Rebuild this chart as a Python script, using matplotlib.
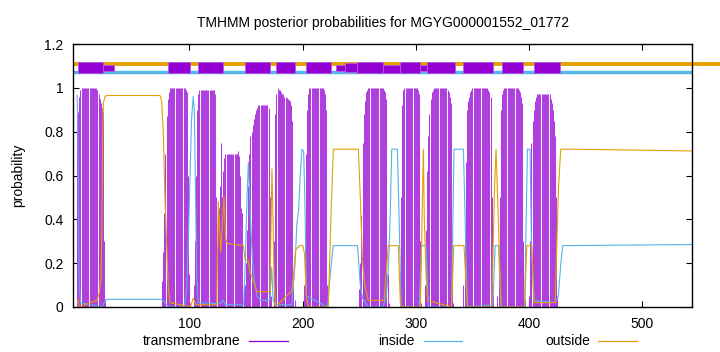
import matplotlib
matplotlib.use("Agg")
import matplotlib.pyplot as plt
from matplotlib.patches import Rectangle
from matplotlib.lines import Line2D

plt.rcParams['font.family'] = ['Liberation Sans', 'DejaVu Sans']

# --- данные ---
seq_len = 544

# профиль трансмембранной вероятности: начало сегмента и значения по остаткам
tm_seg_start = [1, 76, 104, 149, 175, 201, 250, 286, 308, 342, 372, 400]
tm_seg_values = [
    [0.88, 0.89, 0.96, 0.99, 1.0, 1.0, 1.0, 1.0, 1.0, 1.0, 1.0, 1.0, 1.0, 1.0, 1.0, 1.0, 1.0, 1.0,
     0.99, 0.97, 0.95, 0.93, 0.91, 0.89, 0.3, 0.03],
    [0.12, 0.25, 0.43, 0.7, 0.87, 0.95, 0.98, 1.0, 1.0, 1.0, 1.0, 1.0, 1.0, 1.0, 1.0, 1.0, 1.0, 1.0,
     1.0, 1.0, 1.0, 0.99, 0.98, 0.6, 0.15, 0.02],
    [0.1, 0.3, 0.6, 0.9, 0.97, 0.99, 0.99, 0.99, 0.99, 0.99, 0.99, 0.99, 0.99, 0.99, 0.99, 0.99,
     0.99, 0.99, 0.99, 0.97, 0.5, 0.42, 0.45, 0.55, 0.75, 0.5, 0.62, 0.68, 0.7, 0.7, 0.7, 0.7,
     0.7, 0.7, 0.7, 0.7, 0.7, 0.7, 0.7, 0.71, 0.69, 0.6, 0.45, 0.43, 0.1],
    [0.1, 0.2, 0.35, 0.55, 0.7, 0.78, 0.8, 0.83, 0.86, 0.88, 0.9, 0.91, 0.92, 0.92, 0.92, 0.92,
     0.92, 0.92, 0.92, 0.92, 0.92, 0.91, 0.5, 0.05],
    [0.3, 0.88, 0.97, 1.0, 0.99, 0.99, 0.98, 0.97, 0.97, 0.96, 0.96, 0.955, 0.95, 0.945, 0.94,
     0.92, 0.85, 0.1, 0.03],
    [0.1, 0.35, 0.7, 0.9, 0.97, 1.0, 1.0, 1.0, 1.0, 1.0, 1.0, 1.0, 1.0, 1.0, 1.0, 1.0, 1.0, 1.0,
     0.99, 0.97, 0.9, 0.1],
    [0.08, 0.2, 0.42, 0.75, 0.88, 0.94, 0.98, 0.99, 1.0, 1.0, 1.0, 1.0, 1.0, 1.0, 1.0, 1.0, 1.0,
     1.0, 1.0, 1.0, 1.0, 1.0, 0.99, 0.98, 0.95, 0.15, 0.02],
    [0.1, 0.5, 0.92, 0.99, 1.0, 1.0, 1.0, 1.0, 1.0, 1.0, 1.0, 1.0, 1.0, 1.0, 1.0, 1.0, 0.99, 0.97,
     0.3, 0.02],
    [0.1, 0.35, 0.62, 0.78, 0.88, 0.95, 0.98, 0.99, 1.0, 1.0, 1.0, 1.0, 1.0, 1.0, 1.0, 1.0, 1.0,
     1.0, 1.0, 1.0, 0.99, 0.98, 0.96, 0.93, 0.2, 0.02],
    [0.1, 0.35, 0.66, 0.9, 0.94, 0.96, 0.98, 0.99, 1.0, 1.0, 1.0, 1.0, 1.0, 1.0, 1.0, 1.0, 1.0,
     1.0, 1.0, 1.0, 1.0, 1.0, 0.99, 0.98, 0.96, 0.5, 0.05],
    [0.05, 0.15, 0.5, 0.9, 0.97, 0.99, 1.0, 1.0, 1.0, 1.0, 1.0, 1.0, 1.0, 1.0, 1.0, 1.0, 1.0, 1.0,
     1.0, 0.99, 0.98, 0.96, 0.93, 0.3, 0.03],
    [0.05, 0.3, 0.75, 0.85, 0.9, 0.94, 0.96, 0.97, 0.97, 0.97, 0.97, 0.97, 0.97, 0.97, 0.97, 0.97,
     0.97, 0.97, 0.97, 0.95, 0.93, 0.9, 0.85, 0.78, 0.5, 0.05],
]

# вероятность "inside" (точки кривой)
inside_x = [1, 1.5, 2.2, 2.8, 4, 23, 25, 27, 75, 77, 80, 83, 96, 98, 100, 102, 103.5, 104.5,
            105.5, 106.5, 108, 127, 130, 132, 148, 149.5, 151, 152.2, 154.5, 156, 157.5, 160,
            163, 171, 172.8, 174, 176, 190.5, 193.5, 195, 196.5, 198, 199.5, 201, 202, 203.5,
            222, 224.5, 227, 248.5, 251, 253, 258, 271, 274, 276, 277.5, 278.7, 283.7, 285.5,
            287, 303, 305, 309, 311, 331.5, 333.7, 342, 344, 345.5, 368, 370, 373, 375, 396,
            398.5, 400.8, 402, 404, 423, 425.8, 428, 429.7, 544]
inside_y = [0.965, 0.9, 0.5, 0.12, 0.02, 0.0, 0.02, 0.035, 0.035, 0.03, 0.01, 0.0, 0.0, 0.1,
            0.45, 0.85, 0.96, 0.9, 0.55, 0.15, 0.02, 0.015, 0.03, 0.01, 0.01, 0.2, 0.5, 0.66,
            0.35, 0.2, 0.12, 0.05, 0.03, 0.03, 0.18, 0.03, 0.01, 0.01, 0.2, 0.38, 0.44, 0.6,
            0.72, 0.71, 0.5, 0.05, 0.0, 0.15, 0.28, 0.28, 0.1, 0.04, 0.0, 0.0, 0.05, 0.2, 0.44,
            0.72, 0.72, 0.35, 0.0, 0.0, 0.28, 0.28, 0.0, 0.0, 0.72, 0.72, 0.3, 0.0, 0.01, 0.28,
            0.28, 0.0, 0.0, 0.72, 0.72, 0.3, 0.03, 0.02, 0.05, 0.2, 0.28, 0.285]

# вероятность "outside" (точки кривой)
outside_x = [1, 2, 3, 18.4, 20.5, 22.2, 23.0, 23.6, 24.2, 25.7, 27.2, 74.2, 75.7, 77.1, 78.6,
             80.1, 81.5, 83, 101, 103.6, 106, 124.3, 125.7, 127.8, 130.7, 132.2, 133.6, 147.8,
             149.3, 152.2, 153.7, 156.6, 159.6, 171.3, 172.3, 173, 173.9, 175, 176.4, 179.9,
             185.8, 190.2, 191.7, 193.9, 197.4, 200.4, 201.8, 203.3, 205, 222.8, 225, 227.2,
             249.3, 251, 253, 255, 258, 272, 275.7, 278, 284.5, 286.5, 304, 305.5, 306.6, 307.5,
             309, 310.5, 331.5, 333.5, 342.5, 345.5, 367, 369.5, 370.8, 372.5, 374, 375.5, 396,
             397.9, 402.3, 404.5, 422.9, 424.5, 426, 427.9, 440, 544]
outside_y = [0.035, 0.03, 0.0, 0.03, 0.06, 0.13, 0.4, 0.77, 0.93, 0.96, 0.965, 0.965, 0.94,
             0.8, 0.5, 0.28, 0.1, 0.02, 0.0, 0.04, 0.01, 0.01, 0.48, 0.25, 0.5, 0.31, 0.29,
             0.28, 0.22, 0.21, 0.16, 0.12, 0.07, 0.07, 0.4, 0.63, 0.42, 0.1, 0.005, 0.02, 0.05,
             0.07, 0.12, 0.26, 0.28, 0.28, 0.24, 0.05, 0.0, 0.0, 0.4, 0.72, 0.72, 0.5, 0.2, 0.1,
             0.03, 0.03, 0.28, 0.28, 0.28, 0.0, 0.0, 0.4, 0.72, 0.4, 0.15, 0.03, 0.0, 0.28, 0.28,
             0.0, 0.0, 0.55, 0.72, 0.45, 0.2, 0.0, 0.0, 0.28, 0.28, 0.02, 0.02, 0.3, 0.55, 0.72,
             0.72, 0.712]

# предсказанные сегменты на верхней полосе: начало, конец, низ, верх
bar_start = [2.1, 23.7, 81.6, 107.5, 149.3, 176.3, 203.1, 229.5, 237.5, 247.8, 271, 286,
             303.6, 309.5, 341.7, 376.1, 404.3]
bar_end = [23.7, 33.9, 100.7, 129.6, 171.3, 193.4, 225.1, 237.5, 247.8, 271, 286, 303.6,
           309.5, 334.6, 368.2, 394.6, 427.3]
bar_low = [1.067, 1.078, 1.067, 1.067, 1.067, 1.067, 1.067, 1.078, 1.07, 1.067, 1.067, 1.067,
           1.078, 1.067, 1.067, 1.067, 1.067]
bar_high = [1.117, 1.102, 1.117, 1.117, 1.117, 1.117, 1.117, 1.102, 1.112, 1.117, 1.105,
            1.117, 1.102, 1.117, 1.117, 1.117, 1.117]

C_TM = '#9400d3'
C_IN = '#56b4e9'
C_OUT = '#e69f00'
FS = 10

fig = plt.figure(figsize=(7.2, 3.52), dpi=100)
ax = fig.add_axes([73.3 / 720, 45 / 352, 619 / 720, 263 / 352])

# импульсы трансмембранной вероятности
tm_x, tm_y = [], []
for start, vals in zip(tm_seg_start, tm_seg_values):
    for i, v in enumerate(vals):
        tm_x.append(start + i)
        tm_y.append(v)
ax.vlines(tm_x, 0, tm_y, color='#b040de', linewidth=0.75, zorder=2)

ax.plot(inside_x, inside_y, color=C_IN, linewidth=0.8, zorder=3)
ax.plot(outside_x, outside_y, color=C_OUT, linewidth=0.8, zorder=3)

# верхняя полоса топологии
ax.plot([-2.3, 570], [1.11, 1.11], color=C_OUT, linewidth=2.8, clip_on=False, zorder=4,
        solid_capstyle='butt')
ax.plot([-2.3, seq_len], [1.072, 1.072], color=C_IN, linewidth=2.5, zorder=4,
        solid_capstyle='butt')
for s, e, lo, hi in zip(bar_start, bar_end, bar_low, bar_high):
    ax.add_patch(Rectangle((s, lo), e - s, hi - lo, facecolor=C_TM, edgecolor='#b25ae0',
                           linewidth=0.6, zorder=5))

ax.set_xlim(-2.3, seq_len)
ax.set_ylim(0, 1.2)
ax.set_xticks([100, 200, 300, 400, 500])
ax.set_yticks([0, 0.2, 0.4, 0.6, 0.8, 1.0, 1.2])
ax.set_yticklabels(['0', '0.2', '0.4', '0.6', '0.8', '1', '1.2'])
ax.tick_params(direction='in', top=True, right=True, labelsize=FS, length=4, width=0.8,
               pad=7)
for sp in ax.spines.values():
    sp.set_linewidth(1.0)
    sp.set_zorder(6)

ax.set_ylabel('probability', fontsize=FS, labelpad=14)
ax.set_title('TMHMM posterior probabilities for MGYG000001552_01772', fontsize=FS, pad=12)

# легенда внизу: текст, затем образец линии
leg_items = [('transmembrane', C_TM, 240, 249, 288),
             ('inside', C_IN, 415, 424, 462),
             ('outside', C_OUT, 590, 598, 637)]
ly = 341
for label, col, tx, x0, x1 in leg_items:
    fig.text(tx / 720, 1 - ly / 352, label, ha='right', va='center', fontsize=FS)
    fig.add_artist(Line2D([x0 / 720, x1 / 720], [1 - ly / 352, 1 - ly / 352], color=col,
                          linewidth=0.9, transform=fig.transFigure))

fig.savefig('out.png', dpi=100)
